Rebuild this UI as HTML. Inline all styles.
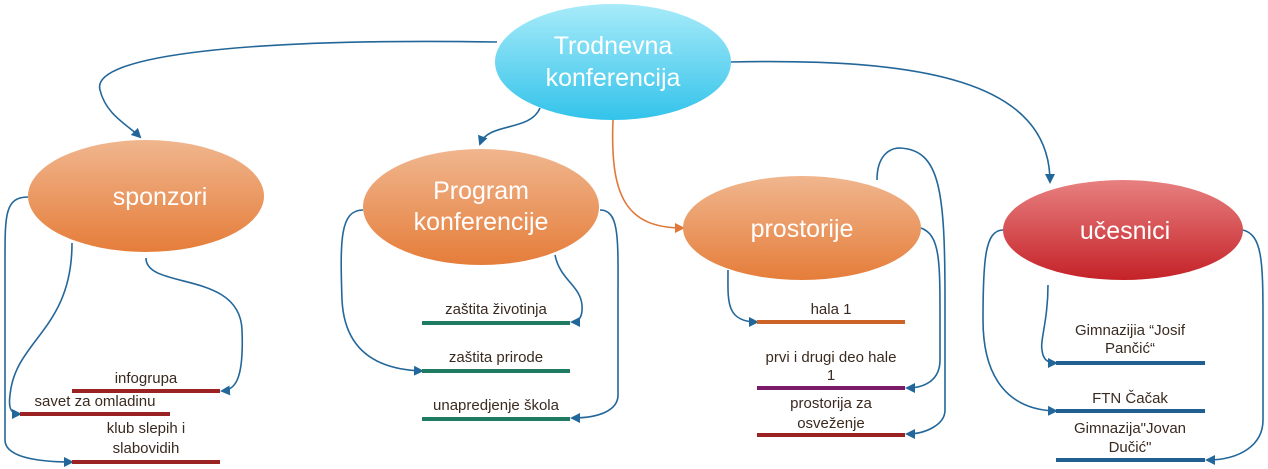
<!DOCTYPE html>
<html><head><meta charset="utf-8"><style>
body{margin:0;background:#fff;width:1268px;height:469px;overflow:hidden}
svg{display:block}
text{font-family:"Liberation Sans Narrow","Liberation Sans",sans-serif}
.l{font-size:15px;fill:#3a2a20;text-anchor:middle}
.e{font-size:25px;fill:#fff;text-anchor:middle}
.c{fill:none;stroke:#23679a;stroke-width:1.6}
</style></head><body>
<svg width="1268" height="469" viewBox="0 0 1268 469">
<defs>
<linearGradient id="gc" x1="0" y1="0" x2="0" y2="1"><stop offset="0" stop-color="#a8ebf9"/><stop offset="1" stop-color="#33c3ea"/></linearGradient>
<linearGradient id="go" x1="0" y1="0" x2="0" y2="1"><stop offset="0" stop-color="#f0b68e"/><stop offset="1" stop-color="#e57d3a"/></linearGradient>
<linearGradient id="gr" x1="0" y1="0" x2="0" y2="1"><stop offset="0" stop-color="#e88080"/><stop offset="1" stop-color="#c42228"/></linearGradient>
<marker id="a" markerWidth="10" markerHeight="10" refX="8" refY="5" orient="auto" markerUnits="userSpaceOnUse"><path d="M0,0 L10,5 L0,10 z" fill="#23679a"/></marker>
<marker id="ao" markerWidth="10" markerHeight="10" refX="8" refY="5" orient="auto" markerUnits="userSpaceOnUse"><path d="M0,0 L10,5 L0,10 z" fill="#e0783a"/></marker>
</defs>
<!-- connectors -->
<path class="c" d="M497,42 C250,38 90,55 100,90 C106,115 128,125 140,137" marker-end="url(#a)"/>
<path class="c" d="M540,108 C530,132 488,122 480,144" marker-end="url(#a)"/>
<path d="M613,120 C610,195 625,228 683,228" fill="none" stroke="#e0783a" stroke-width="1.6" marker-end="url(#ao)"/>
<path class="c" d="M731,62 C920,58 1050,80 1050,182" marker-end="url(#a)"/>
<path class="c" d="M28,197 C5,197 5,215 5,260 L5,440 C5,455 30,462 72,462" marker-end="url(#a)"/>
<path class="c" d="M72,243 C72,330 15,340 10,395 C8,410 12,414 20,414" marker-end="url(#a)"/>
<path class="c" d="M146,258 C146,290 240,270 242,330 C244,380 235,390 222,391" marker-end="url(#a)"/>
<path class="c" d="M363,210 C340,210 340,240 342,300 C345,360 390,370 422,371" marker-end="url(#a)"/>
<path class="c" d="M555,255 C560,280 580,285 582,305 C583,318 578,322 572,322" marker-end="url(#a)"/>
<path class="c" d="M600,210 C620,210 618,240 618,300 L618,395 C618,410 600,418 572,418" marker-end="url(#a)"/>
<path class="c" d="M728,270 C728,300 725,322 757,322" marker-end="url(#a)"/>
<path class="c" d="M877,180 C877,155 890,148 900,148 C940,150 945,190 945,300 L945,410 C945,425 925,434 907,434" marker-end="url(#a)"/>
<path class="c" d="M921,228 C940,235 940,260 940,320 L940,360 C940,380 925,388 907,388" marker-end="url(#a)"/>
<path class="c" d="M1048,285 C1048,320 1040,340 1042,350 C1043,360 1048,363 1056,363" marker-end="url(#a)"/>
<path class="c" d="M1003,230 C985,230 983,260 983,320 C983,380 1010,410 1056,411" marker-end="url(#a)"/>
<path class="c" d="M1243,230 C1262,235 1263,260 1263,320 L1263,420 C1263,445 1240,460 1207,460" marker-end="url(#a)"/>
<!-- ellipses -->
<ellipse cx="613" cy="62" rx="118" ry="58" fill="url(#gc)"/>
<text class="e" x="613" y="54">Trodnevna</text><text class="e" x="613" y="86">konferencija</text>
<ellipse cx="146" cy="196" rx="118" ry="56" fill="url(#go)"/>
<text class="e" x="160" y="205">sponzori</text>
<ellipse cx="481" cy="207" rx="118" ry="58" fill="url(#go)"/>
<text class="e" x="481" y="199">Program</text><text class="e" x="481" y="230">konferencije</text>
<ellipse cx="802" cy="228" rx="119" ry="52" fill="url(#go)"/>
<text class="e" x="802" y="237">prostorije</text>
<ellipse cx="1123" cy="230" rx="120" ry="50" fill="url(#gr)"/>
<text class="e" x="1125" y="239">učesnici</text>
<!-- lines & labels -->
<g stroke-width="4">
<line x1="72" y1="391" x2="220" y2="391" stroke="#9b2222"/>
<line x1="20" y1="414" x2="170" y2="414" stroke="#9b2222"/>
<line x1="72" y1="462" x2="220" y2="462" stroke="#9b2222"/>
<line x1="422" y1="323" x2="570" y2="323" stroke="#1e7b61"/>
<line x1="422" y1="371" x2="570" y2="371" stroke="#1e7b61"/>
<line x1="422" y1="419" x2="570" y2="419" stroke="#1e7b61"/>
<line x1="757" y1="322" x2="905" y2="322" stroke="#cc6428"/>
<line x1="757" y1="388" x2="905" y2="388" stroke="#7b1a68"/>
<line x1="757" y1="435" x2="905" y2="435" stroke="#9b2222"/>
<line x1="1056" y1="363" x2="1205" y2="363" stroke="#1f5f91"/>
<line x1="1056" y1="411" x2="1205" y2="411" stroke="#1f5f91"/>
<line x1="1056" y1="460" x2="1205" y2="460" stroke="#1f5f91"/>
</g>
<text class="l" x="146" y="383">infogrupa</text>
<text class="l" x="95" y="406">savet za omladinu</text>
<text class="l" x="146" y="433">klub slepih i</text><text class="l" x="146" y="453">slabovidih</text>
<text class="l" x="496" y="314">zaštita životinja</text>
<text class="l" x="496" y="362">zaštita prirode</text>
<text class="l" x="496" y="410">unapredjenje škola</text>
<text class="l" x="831" y="314">hala 1</text>
<text class="l" x="831" y="362">prvi i drugi deo hale</text><text class="l" x="831" y="380">1</text>
<text class="l" x="831" y="408">prostorija za</text><text class="l" x="831" y="428">osveženje</text>
<text class="l" x="1130" y="335">Gimnazijia “Josif</text><text class="l" x="1130" y="353">Pančić“</text>
<text class="l" x="1130" y="403">FTN Čačak</text>
<text class="l" x="1130" y="433">Gimnazija"Jovan</text><text class="l" x="1130" y="452">Dučić"</text>
</svg>
</body></html>
